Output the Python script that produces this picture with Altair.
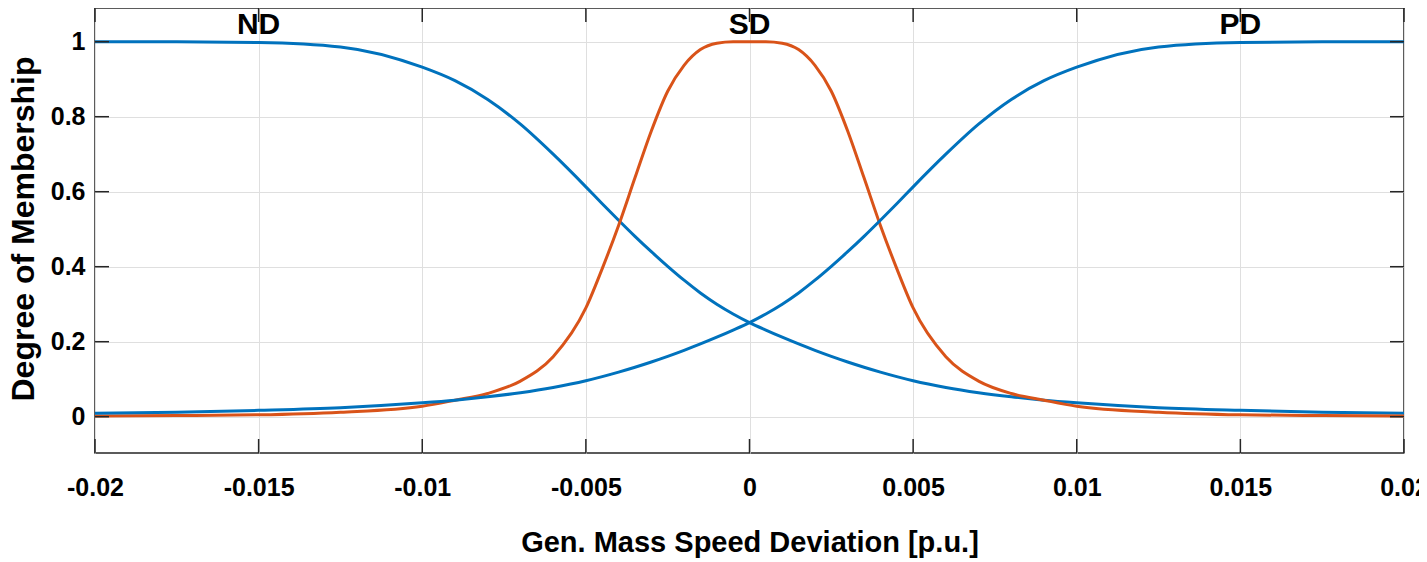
import altair as alt
import pandas as pd

# ---- data ----
x_vals = [-0.02, -0.0175, -0.015, -0.0125, -0.01, -0.009, -0.008, -0.007, -0.006, -0.005,
          -0.0045, -0.004, -0.0035, -0.003, -0.0025, -0.002, -0.0015, -0.001, -0.0005, 0.0,
          0.0005, 0.001, 0.0015, 0.002, 0.0025, 0.003, 0.0035, 0.004, 0.0045, 0.005,
          0.006, 0.007, 0.008, 0.009, 0.01, 0.0125, 0.015, 0.0175, 0.02]

nd_vals = [1.0, 1.0, 0.998, 0.986, 0.932, 0.896, 0.846, 0.78, 0.70, 0.613,
           0.568, 0.524, 0.481, 0.440, 0.401, 0.364, 0.330, 0.300, 0.274, 0.251,
           0.231, 0.212, 0.194, 0.177, 0.161, 0.146, 0.132, 0.119, 0.107, 0.096,
           0.078, 0.064, 0.053, 0.044, 0.037, 0.024, 0.017, 0.012, 0.009]

sd_vals = [0.002, 0.003, 0.005, 0.012, 0.028, 0.044, 0.062, 0.095, 0.16, 0.29,
           0.395, 0.51, 0.637, 0.762, 0.868, 0.937, 0.979, 0.996, 1.0, 1.0,
           1.0, 0.996, 0.979, 0.937, 0.868, 0.762, 0.637, 0.51, 0.395, 0.29,
           0.16, 0.095, 0.062, 0.044, 0.028, 0.012, 0.005, 0.003, 0.002]

pd_vals = [0.009, 0.012, 0.017, 0.024, 0.037, 0.044, 0.053, 0.064, 0.078, 0.096,
           0.107, 0.119, 0.132, 0.146, 0.161, 0.177, 0.194, 0.212, 0.231, 0.251,
           0.274, 0.300, 0.330, 0.364, 0.401, 0.440, 0.481, 0.524, 0.568, 0.613,
           0.70, 0.78, 0.846, 0.896, 0.932, 0.986, 0.998, 1.0, 1.0]

x_ticks = [-0.02, -0.015, -0.01, -0.005, 0.0, 0.005, 0.01, 0.015, 0.02]
y_ticks = [0.0, 0.2, 0.4, 0.6, 0.8, 1.0]

set_names = ["ND", "SD", "PD"]
set_centers = [-0.015, 0.0, 0.015]
set_label_y = [1.02, 1.02, 1.02]

# ---- layout / style ----
W, H = 1309, 445
TICK = 14
FONT = "Liberation Sans"
BLUE = "#0072BD"
ORANGE = "#D95319"
FRAME = "#262626"

x_dom = [-0.02, 0.02]
y_dom = [-0.0968, 1.0899]

df = pd.DataFrame({"x": x_vals, "ND": nd_vals, "SD": sd_vals, "PD": pd_vals})
xt = pd.DataFrame({"v": x_ticks})
yt = pd.DataFrame({"v": y_ticks})
lab = pd.DataFrame({"name": set_names, "x": set_centers, "y": set_label_y})

xscale = alt.Scale(domain=x_dom, nice=False, zero=False)
yscale = alt.Scale(domain=y_dom, nice=False, zero=False)

x_axis = alt.Axis(
    values=x_ticks, grid=True, gridColor="#DFDFDF", gridWidth=1,
    domain=False, ticks=False, tickSize=0,
    labelExpr="datum.value < 0 ? '-' + format(-datum.value, '~g') : format(datum.value, '~g')",
    labelFont=FONT, labelFontSize=25, labelFontWeight="bold", labelColor="black",
    labelPadding=22, labelFlush=False,
    title="Gen. Mass Speed Deviation [p.u.]",
    titleFont=FONT, titleFontSize=29, titleFontWeight="bold", titleColor="black",
    titleBaseline="alphabetic", titleY=98, titleX=W / 2,
)
y_axis = alt.Axis(
    values=y_ticks, grid=True, gridColor="#DFDFDF", gridWidth=1,
    domain=False, ticks=False, tickSize=0, format="~g",
    labelFont=FONT, labelFontSize=25, labelFontWeight="bold", labelColor="black",
    labelPadding=10,
    title="Degree of Membership",
    titleFont=FONT, titleFontSize=32, titleFontWeight="bold", titleColor="black",
    titleAngle=-90, titleBaseline="alphabetic", titleX=-62, titleY=220.5,
)

base = alt.Chart(df)

nd_line = base.mark_line(color=BLUE, strokeWidth=3, interpolate="monotone").encode(
    x=alt.X("x:Q", scale=xscale, axis=x_axis),
    y=alt.Y("ND:Q", scale=yscale, axis=y_axis),
)
sd_line = base.mark_line(color=ORANGE, strokeWidth=3, interpolate="monotone").encode(
    x=alt.X("x:Q", scale=xscale),
    y=alt.Y("SD:Q", scale=yscale),
)
pd_line = base.mark_line(color=BLUE, strokeWidth=3, interpolate="monotone").encode(
    x=alt.X("x:Q", scale=xscale),
    y=alt.Y("PD:Q", scale=yscale),
)

tick_style = dict(color=FRAME, strokeWidth=1.5)
xt_bottom = alt.Chart(xt).mark_rule(**tick_style).encode(
    x=alt.X("v:Q", scale=xscale), y=alt.value(H), y2=alt.value(H - TICK))
xt_top = alt.Chart(xt).mark_rule(**tick_style).encode(
    x=alt.X("v:Q", scale=xscale), y=alt.value(0), y2=alt.value(TICK))
yt_left = alt.Chart(yt).mark_rule(**tick_style).encode(
    y=alt.Y("v:Q", scale=yscale), x=alt.value(0), x2=alt.value(TICK))
yt_right = alt.Chart(yt).mark_rule(**tick_style).encode(
    y=alt.Y("v:Q", scale=yscale), x=alt.value(W - TICK), x2=alt.value(W))

labels = alt.Chart(lab).mark_text(
    font=FONT, fontSize=30, fontWeight="bold", color="black",
    align="center", baseline="alphabetic",
).encode(
    x=alt.X("x:Q", scale=xscale),
    y=alt.Y("y:Q", scale=yscale),
    text="name:N",
)

chart = alt.layer(
    nd_line, sd_line, pd_line, xt_bottom, xt_top, yt_left, yt_right, labels
).properties(
    width=W, height=H,
    autosize=alt.AutoSizeParams(type="none"),
    padding={"left": 87, "top": 0, "right": 15, "bottom": 106},
    background="white",
).configure_view(
    stroke=FRAME, strokeWidth=1.5
)

chart.save("out.html", embed_options={"renderer": "svg", "actions": False})
